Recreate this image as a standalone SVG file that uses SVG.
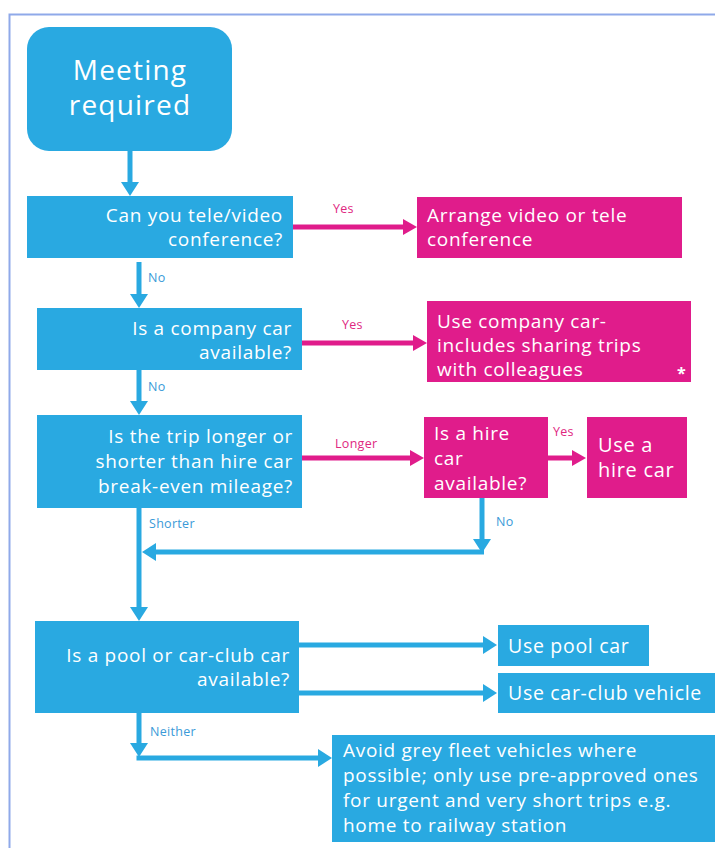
<svg xmlns="http://www.w3.org/2000/svg" width="715" height="848" viewBox="0 0 715 848">
<style>
.b{fill:#29a9e1}
.p{fill:#e01c8b}
.t{font-family:"Open Sans",Lato,sans-serif;fill:#fff;font-size:19px;letter-spacing:0.7px}
.tr{text-anchor:end}
.big{font-size:28px;text-anchor:middle;letter-spacing:1.2px}
.m{font-size:20px}
.s20{font-size:19.5px}
.lb{font-family:"Open Sans",Lato,sans-serif;font-size:12.5px;letter-spacing:0.3px;fill:#3a9ad8}
.lp{font-family:"Open Sans",Lato,sans-serif;font-size:12.5px;letter-spacing:0.3px;fill:#e0287f}
.cb{stroke:#29a9e1;stroke-width:5;fill:none}
.cp{stroke:#e01c8b;stroke-width:5;fill:none}
</style>
<defs>
<marker id="ab" markerUnits="userSpaceOnUse" markerWidth="16" markerHeight="20" refX="4" refY="9" orient="auto"><path d="M0,0 L14,9 L0,18 z" fill="#29a9e1"/></marker>
<marker id="ap" markerUnits="userSpaceOnUse" markerWidth="16" markerHeight="20" refX="4" refY="8" orient="auto"><path d="M0,0 L14,8 L0,16 z" fill="#e01c8b"/></marker>
</defs>
<rect width="715" height="848" fill="#fff"/>
<path d="M9.5,860 V14.5 H730" stroke="#8fa9e9" stroke-width="2" fill="none"/>

<g id="connectors">
<line class="cb" x1="130" y1="151" x2="130" y2="186" marker-end="url(#ab)"/>
<line class="cb" x1="139" y1="262" x2="139" y2="298" marker-end="url(#ab)"/>
<line class="cb" x1="139" y1="370" x2="139" y2="405" marker-end="url(#ab)"/>
<line class="cb" x1="139" y1="508" x2="139" y2="611" marker-end="url(#ab)"/>
<line class="cb" x1="482" y1="498" x2="482" y2="543" marker-end="url(#ab)"/>
<line class="cb" x1="484" y1="552" x2="152" y2="552" marker-end="url(#ab)"/>
<line class="cb" x1="299" y1="645" x2="487" y2="645" marker-end="url(#ab)"/>
<line class="cb" x1="299" y1="693" x2="487" y2="693" marker-end="url(#ab)"/>
<line class="cb" x1="139" y1="713" x2="139" y2="747" marker-end="url(#ab)"/>
<line class="cb" x1="136.5" y1="758" x2="322" y2="758" marker-end="url(#ab)"/>
<line class="cp" x1="293" y1="227" x2="407" y2="227" marker-end="url(#ap)"/>
<line class="cp" x1="302" y1="343" x2="417" y2="343" marker-end="url(#ap)"/>
<line class="cp" x1="302" y1="458" x2="414" y2="458" marker-end="url(#ap)"/>
<line class="cp" x1="548" y1="458" x2="576" y2="458" marker-end="url(#ap)"/>
<text class="lb" x="148" y="282">No</text>
<text class="lb" x="148" y="391">No</text>
<text class="lb" x="149" y="528">Shorter</text>
<text class="lb" x="496" y="526">No</text>
<text class="lb" x="150" y="736">Neither</text>
<text class="lp" x="333" y="213">Yes</text>
<text class="lp" x="342" y="329">Yes</text>
<text class="lp" x="335" y="448">Longer</text>
<text class="lp" x="553" y="436">Yes</text>
</g>

<g id="start">
<rect class="b" x="27" y="27" width="205" height="124" rx="22"/>
<text class="t big" x="130" y="80">Meeting</text>
<text class="t big" x="130" y="115">required</text>
</g>

<g id="q-conference">
<rect class="b" x="27" y="196" width="266" height="62"/>
<text class="t tr" x="283" y="222">Can you tele/video</text>
<text class="t tr" x="283" y="246">conference?</text>
</g>

<g id="a-conference">
<rect class="p" x="417" y="197" width="265" height="61"/>
<text class="t" x="427" y="222">Arrange video or tele</text>
<text class="t" x="427" y="246">conference</text>
</g>

<g id="q-company">
<rect class="b" x="37" y="308" width="265" height="62"/>
<text class="t tr" x="292" y="335">Is a company car</text>
<text class="t tr" x="292" y="359">available?</text>
</g>

<g id="a-company">
<rect class="p" x="427" y="301" width="264" height="81"/>
<text class="t" x="437" y="328">Use company car-</text>
<text class="t" x="437" y="352">includes sharing trips</text>
<text class="t" x="437" y="376">with colleagues</text>
<text x="677" y="379" font-family="Open Sans,sans-serif" font-size="16" font-weight="bold" fill="#fff">*</text>
</g>

<g id="q-trip">
<rect class="b" x="37" y="415" width="265" height="93"/>
<text class="t tr" x="293" y="443">Is the trip longer or</text>
<text class="t tr" x="293" y="468">shorter than hire car</text>
<text class="t tr" x="293" y="493">break-even mileage?</text>
</g>

<g id="q-hire">
<rect class="p" x="424" y="417" width="124" height="81"/>
<text class="t" x="434" y="440">Is a hire</text>
<text class="t" x="434" y="465">car</text>
<text class="t" x="434" y="490">available?</text>
</g>

<g id="a-hire">
<rect class="p" x="587" y="417" width="100" height="81"/>
<text class="t m" x="598" y="452">Use a</text>
<text class="t m" x="598" y="477">hire car</text>
</g>

<g id="q-pool">
<rect class="b" x="35" y="621" width="264" height="92"/>
<text class="t tr" x="290" y="662">Is a pool or car-club car</text>
<text class="t tr" x="290" y="686">available?</text>
</g>

<g id="a-pool">
<rect class="b" x="498" y="625" width="151" height="41"/>
<text class="t s20" x="508" y="653">Use pool car</text>
</g>

<g id="a-carclub">
<rect class="b" x="498" y="673" width="217" height="40"/>
<text class="t s20" x="508" y="700">Use car-club vehicle</text>
</g>

<g id="a-greyfleet">
<rect class="b" x="332" y="735" width="383" height="107"/>
<text class="t" x="343" y="757">Avoid grey fleet vehicles where</text>
<text class="t" x="343" y="782">possible; only use pre-approved ones</text>
<text class="t" x="343" y="807">for urgent and very short trips e.g.</text>
<text class="t" x="343" y="832">home to railway station</text>
</g>
</svg>
